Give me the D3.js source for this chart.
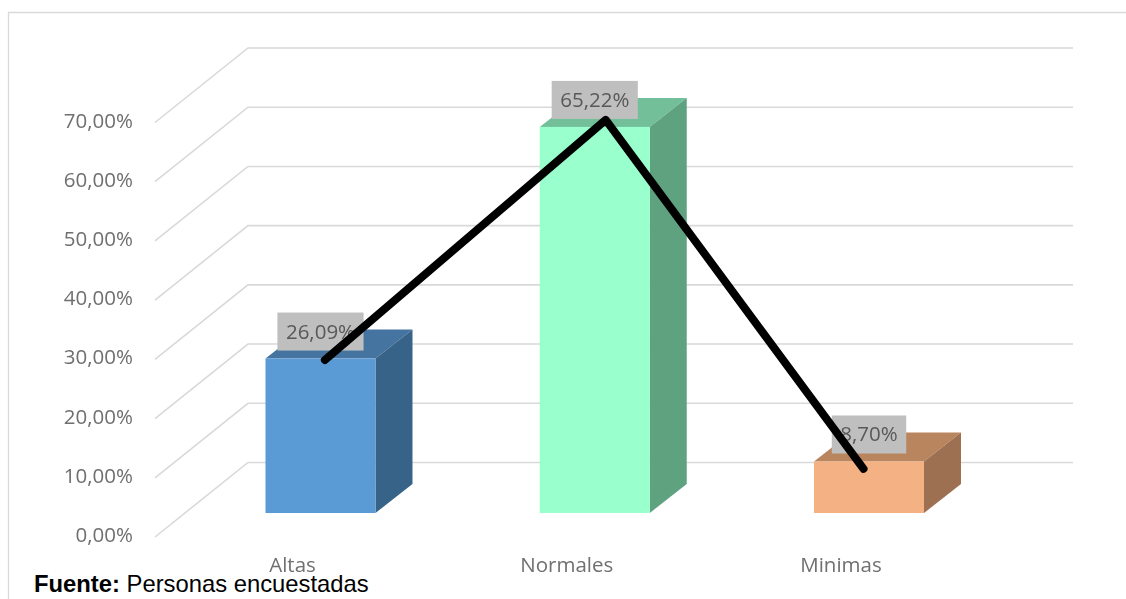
<!DOCTYPE html>
<html><head><meta charset="utf-8">
<script src="https://cdnjs.cloudflare.com/ajax/libs/d3/7.8.5/d3.min.js"></script>
<style>html,body{margin:0;background:#fff}svg{display:block}</style></head>
<body><svg id="c" width="1126" height="599"></svg>
<script>
const categories = ["Altas","Normales","Minimas"];
const barValues = [26.09,65.22,8.70];
const barLabels = ["26,09%","65,22%","8,70%"];
const linePositions = [0.016,1.04,1.98];
const lineValues = [25.85,66.4,7.45];
const yTicks = [0,10,20,30,40,50,60,70];
const frontColors = ["#5b9bd5","#99ffcc","#f4b183"];
const topColors = ["#44749f","#72bf99","#b8855f"];
const sideColors = ["#386388","#5fa27f","#9c7050"];
const sourceBold = "Fuente:";
const sourceText = " Personas encuestadas";

const FONT = "'Open Sans','Noto Sans',sans-serif";
const FS = 20.5;
const svg = d3.select("#c");
const defs = svg.append("defs");
defs.append("filter").attr("id","soft").append("feGaussianBlur").attr("stdDeviation",0.45);

const x = d3.scaleBand().domain(categories).range([265.5,924]).paddingInner(0.599).paddingOuter(0);
const yBar = d3.scaleLinear().domain([0,70]).range([513,98.6]);
const yBack = d3.scaleLinear().domain([0,70]).range([462.5,48]);
const yFront = d3.scaleLinear().domain([0,70]).range([537,122.5]);
const xLine = d3.scaleLinear().domain([0,2]).range([x("Altas")+x.bandwidth()/2, x("Minimas")+x.bandwidth()/2]);
const depth = {dx:37, dy:-29};
const gridX = {front:155, back:248, right:1073};

// frame
svg.append("path").attr("d","M8.5,599V12.5H1126").attr("fill","none").attr("stroke","#d9d9d9").attr("stroke-width",1.3);

// gridlines
svg.append("g").attr("filter","url(#soft)").selectAll("path").data(yTicks).join("path")
  .attr("d",v=>d3.line()([[gridX.front,yFront(v)],[gridX.back,yBack(v)],[gridX.right,yBack(v)]]))
  .attr("fill","none").attr("stroke","#d9d9d9").attr("stroke-width",1.6);

// y axis labels
const yAxis = svg.append("g").attr("transform","translate(133,-2)")
  .call(d3.axisLeft(yFront).tickValues(yTicks).tickSize(0).tickPadding(0)
    .tickFormat(v=>d3.format(".2f")(v).replace(".",",")+"%"));
yAxis.select(".domain").remove();
yAxis.selectAll("text").attr("font-family",FONT).attr("font-size",FS).attr("fill","#6f6f6f").attr("filter","url(#soft)");

// category labels
const xAxis = svg.append("g").attr("transform","translate(-28,557)")
  .call(d3.axisBottom(x).tickSize(0).tickPadding(0));
xAxis.select(".domain").remove();
xAxis.selectAll("text").attr("font-family",FONT).attr("font-size",FS).attr("fill","#6f6f6f").attr("filter","url(#soft)");

// bars
const bars = svg.append("g").selectAll("g").data(categories).join("g");
bars.append("path").attr("fill",(d,i)=>topColors[i]).attr("d",(d,i)=>{
  const x0=x(d),x1=x0+x.bandwidth(),y=yBar(barValues[i]);
  return `M${x0},${y}L${x1},${y}L${x1+depth.dx},${y+depth.dy}L${x0+depth.dx},${y+depth.dy}Z`;});
bars.append("path").attr("fill",(d,i)=>sideColors[i]).attr("d",(d,i)=>{
  const x1=x(d)+x.bandwidth(),y=yBar(barValues[i]),b=yBar(0);
  return `M${x1},${y}L${x1+depth.dx},${y+depth.dy}L${x1+depth.dx},${b+depth.dy}L${x1},${b}Z`;});
bars.append("rect").attr("fill",(d,i)=>frontColors[i])
  .attr("x",d=>x(d)).attr("width",x.bandwidth())
  .attr("y",(d,i)=>yBar(barValues[i])).attr("height",(d,i)=>yBar(0)-yBar(barValues[i]));

// value labels
const labels = svg.append("g").selectAll("g").data(categories).join("g")
  .attr("transform",(d,i)=>`translate(${x(d)+x.bandwidth()/2},${yBar(barValues[i])-8})`);
const boxes = labels.append("rect").attr("fill","#bfbfbf").attr("y",-38).attr("height",38);
const labelText = labels.append("text").text((d,i)=>barLabels[i]).attr("text-anchor","middle")
  .attr("y",-12).attr("font-family",FONT).attr("font-size",FS).attr("fill","#595959").attr("filter","url(#soft)");
labelText.each(function(d,i){
  const w=this.getComputedTextLength()+17;
  d3.select(boxes.nodes()[i]).attr("x",-w/2).attr("width",w);
});

// overlaid line
svg.append("path").datum(lineValues)
  .attr("d",d3.line().x((d,i)=>xLine(linePositions[i])).y(d=>yBar(d)))
  .attr("fill","none").attr("stroke","#000").attr("stroke-width",8)
  .attr("stroke-linecap","round").attr("stroke-linejoin","round");

// source
const src = svg.append("text").attr("x",34).attr("y",592).attr("font-family","'Liberation Sans',Arial,sans-serif")
  .attr("font-size",23.8).attr("fill","#000").attr("xml:space","preserve");
src.append("tspan").attr("font-weight","bold").text(sourceBold);
src.append("tspan").text(sourceText);
</script></body></html>
